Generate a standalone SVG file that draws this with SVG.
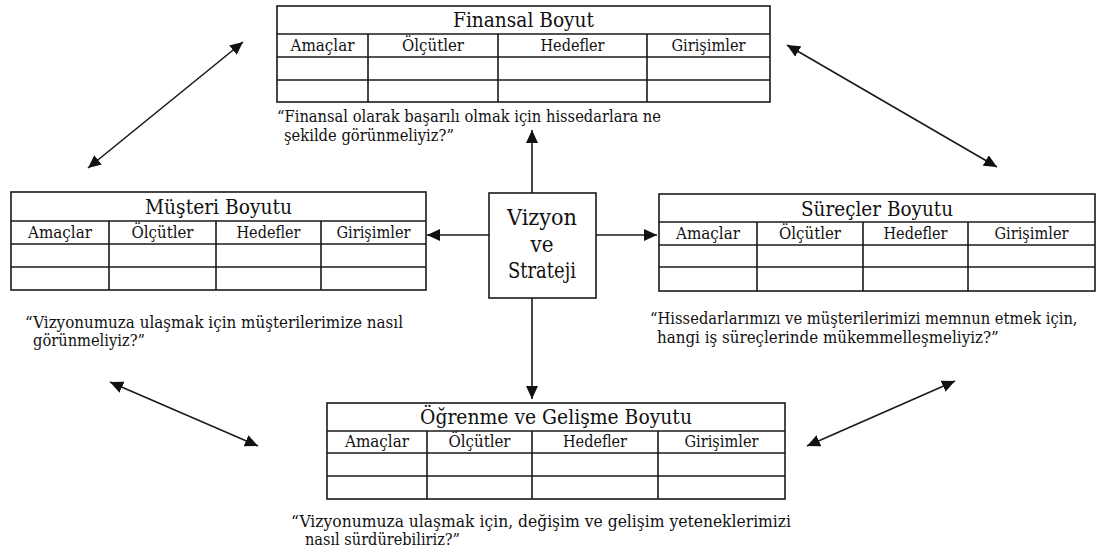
<svg xmlns="http://www.w3.org/2000/svg" width="1099" height="554" viewBox="0 0 1099 554">
<style>
.frame{fill:#fff;stroke:#1a1a1a;stroke-width:1.6}
.ln{stroke:#1a1a1a;stroke-width:1.6;fill:none}
text{font-family:"DejaVu Serif",serif;fill:#111}
.ttl{font-size:21px;text-anchor:middle}
.hd{font-size:17px;text-anchor:middle}
.q{font-size:17.5px}
.vz{font-size:22px;text-anchor:middle}
.arr{stroke:#1a1a1a;stroke-width:1.6;fill:none;marker-end:url(#ah)}
.arr2{stroke:#1a1a1a;stroke-width:1.6;fill:none;marker-start:url(#ah);marker-end:url(#ah)}
</style>
<defs>
<marker id="ah" markerUnits="userSpaceOnUse" markerWidth="14" markerHeight="12" refX="13" refY="6" orient="auto-start-reverse">
<path d="M0,0 L13,6 L0,12 z" fill="#111"/>
</marker>
</defs>
<rect width="1099" height="554" fill="#fff"/>

<g id="finansal">
<rect class="frame" x="277" y="6" width="493" height="96"/>
<path class="ln" d="M277,34H770M277,57H770M277,80H770M368,34V102M498,34V102M647,34V102"/>
<text class="ttl" x="523.5" y="27" textLength="141" lengthAdjust="spacingAndGlyphs">Finansal Boyut</text>
<text class="hd" x="322.5" y="51" textLength="64" lengthAdjust="spacingAndGlyphs">Amaçlar</text>
<text class="hd" x="433" y="51" textLength="62" lengthAdjust="spacingAndGlyphs">Ölçütler</text>
<text class="hd" x="572.5" y="51" textLength="64" lengthAdjust="spacingAndGlyphs">Hedefler</text>
<text class="hd" x="708.5" y="51" textLength="74" lengthAdjust="spacingAndGlyphs">Girişimler</text>
<text class="q" x="277" y="122" textLength="384" lengthAdjust="spacingAndGlyphs">“Finansal olarak başarılı olmak için hissedarlara ne</text>
<text class="q" x="284" y="141" textLength="170" lengthAdjust="spacingAndGlyphs">şekilde görünmeliyiz?”</text>
</g>

<g id="musteri">
<rect class="frame" x="11" y="192" width="415" height="98"/>
<path class="ln" d="M11,221H426M11,244H426M11,267H426M109,221V290M216,221V290M321,221V290"/>
<text class="ttl" x="218.5" y="214" textLength="147" lengthAdjust="spacingAndGlyphs">Müşteri Boyutu</text>
<text class="hd" x="60" y="238" textLength="64" lengthAdjust="spacingAndGlyphs">Amaçlar</text>
<text class="hd" x="162.5" y="238" textLength="62" lengthAdjust="spacingAndGlyphs">Ölçütler</text>
<text class="hd" x="268.5" y="238" textLength="64" lengthAdjust="spacingAndGlyphs">Hedefler</text>
<text class="hd" x="373.5" y="238" textLength="74" lengthAdjust="spacingAndGlyphs">Girişimler</text>
<text class="q" x="25" y="328" textLength="378" lengthAdjust="spacingAndGlyphs">“Vizyonumuza ulaşmak için müşterilerimize nasıl</text>
<text class="q" x="33" y="346" textLength="112" lengthAdjust="spacingAndGlyphs">görünmeliyiz?”</text>
</g>

<g id="surecler">
<rect class="frame" x="659" y="194" width="436" height="97"/>
<path class="ln" d="M659,222H1095M659,245H1095M659,267H1095M757,222V291M863,222V291M968,222V291"/>
<text class="ttl" x="877" y="216" textLength="152" lengthAdjust="spacingAndGlyphs">Süreçler Boyutu</text>
<text class="hd" x="708" y="239" textLength="64" lengthAdjust="spacingAndGlyphs">Amaçlar</text>
<text class="hd" x="810" y="239" textLength="62" lengthAdjust="spacingAndGlyphs">Ölçütler</text>
<text class="hd" x="915.5" y="239" textLength="64" lengthAdjust="spacingAndGlyphs">Hedefler</text>
<text class="hd" x="1031.5" y="239" textLength="74" lengthAdjust="spacingAndGlyphs">Girişimler</text>
<text class="q" transform="translate(650,324) scale(0.85,1)" x="0" y="0" textLength="503" lengthAdjust="spacingAndGlyphs">“Hissedarlarımızı ve müşterilerimizi memnun etmek için,</text>
<text class="q" transform="translate(657,343) scale(0.85,1)" x="0" y="0" textLength="402" lengthAdjust="spacingAndGlyphs">hangi iş süreçlerinde mükemmelleşmeliyiz?”</text>
</g>

<g id="ogrenme">
<rect class="frame" x="327" y="403" width="458" height="96"/>
<path class="ln" d="M327,431H785M327,453H785M327,476H785M427,431V499M532,431V499M658,431V499"/>
<text class="ttl" x="556" y="424" textLength="272" lengthAdjust="spacingAndGlyphs">Öğrenme ve Gelişme Boyutu</text>
<text class="hd" x="377" y="447" textLength="64" lengthAdjust="spacingAndGlyphs">Amaçlar</text>
<text class="hd" x="479.5" y="447" textLength="62" lengthAdjust="spacingAndGlyphs">Ölçütler</text>
<text class="hd" x="595" y="447" textLength="64" lengthAdjust="spacingAndGlyphs">Hedefler</text>
<text class="hd" x="721.5" y="447" textLength="74" lengthAdjust="spacingAndGlyphs">Girişimler</text>
<text class="q" x="291" y="527" textLength="500" lengthAdjust="spacingAndGlyphs">“Vizyonumuza ulaşmak için, değişim ve gelişim yeteneklerimizi</text>
<text class="q" x="305" y="545" textLength="155" lengthAdjust="spacingAndGlyphs">nasıl sürdürebiliriz?”</text>
</g>

<g id="vizyon">
<rect class="frame" x="489" y="193" width="107" height="105"/>
<text class="vz" x="542" y="225" textLength="70" lengthAdjust="spacingAndGlyphs">Vizyon</text>
<text class="vz" x="542" y="252" textLength="23" lengthAdjust="spacingAndGlyphs">ve</text>
<text class="vz" x="542" y="278" textLength="68" lengthAdjust="spacingAndGlyphs">Strateji</text>
</g>

<g id="connectors">
<line class="arr" x1="489" y1="235" x2="427" y2="235"/>
<line class="arr" x1="596" y1="235" x2="657" y2="235"/>
<line class="arr" x1="532" y1="193" x2="532" y2="130"/>
<line class="arr" x1="532" y1="298" x2="532" y2="399"/>
<line class="arr2" x1="88" y1="168" x2="243" y2="42"/>
<line class="arr2" x1="997" y1="167" x2="787" y2="45"/>
<line class="arr2" x1="110" y1="382" x2="258" y2="446"/>
<line class="arr2" x1="955" y1="381" x2="807" y2="446"/>
</g>
</svg>
